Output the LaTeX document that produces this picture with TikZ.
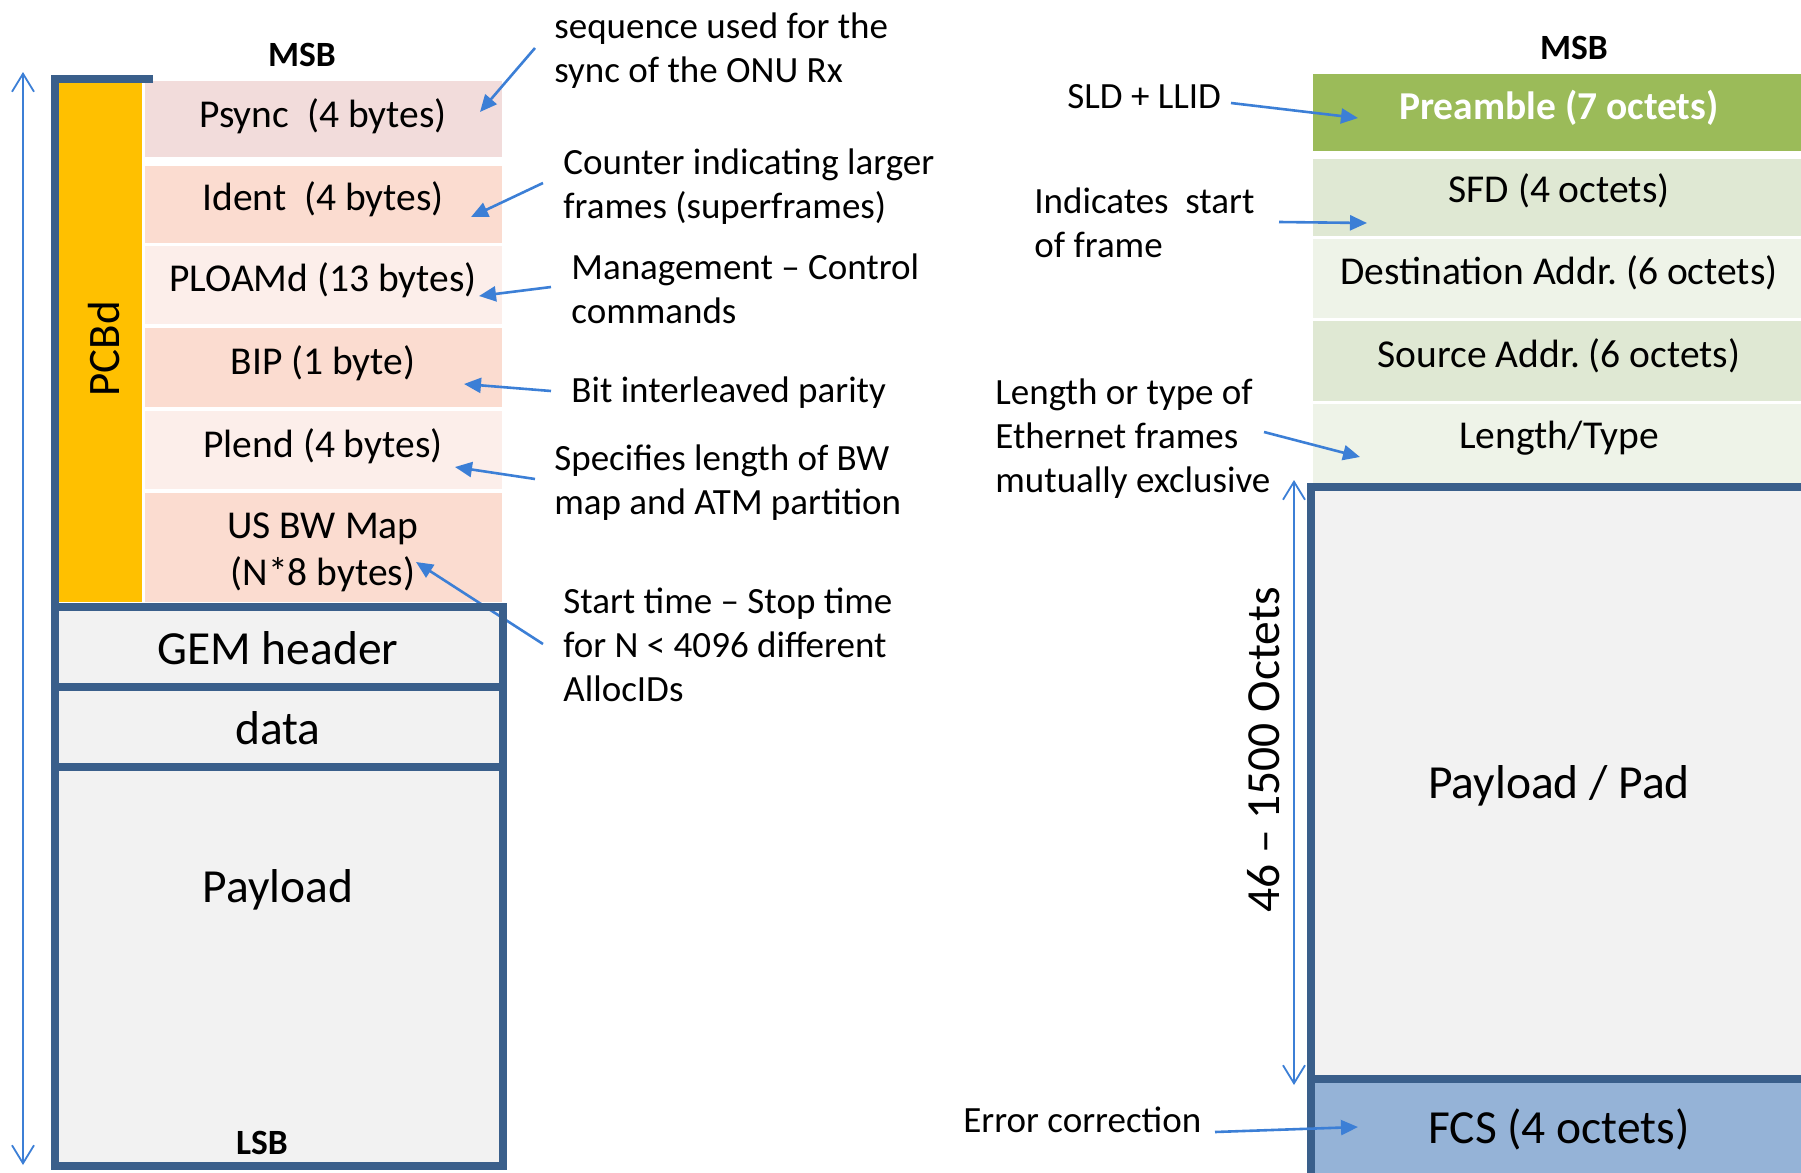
\documentclass[tikz,border=0pt]{standalone}
\usepackage{fontspec}
\setmainfont{Carlito}
\usetikzlibrary{arrows.meta}
\frenchspacing

\definecolor{frameblue}{HTML}{3A5F8B}
\definecolor{pcbdyellow}{HTML}{FFC000}
\definecolor{psyncpink}{HTML}{F2DCDB}
\definecolor{peach}{HTML}{FBDCD0}
\definecolor{peachlight}{HTML}{FCEEEA}
\definecolor{gemgrey}{HTML}{F2F2F2}
\definecolor{preamblegreen}{HTML}{9BBB59}
\definecolor{greenmid}{HTML}{DFE8D3}
\definecolor{greenlight}{HTML}{EEF3E8}
\definecolor{fcsblue}{HTML}{95B3D7}
\definecolor{callout}{HTML}{3C7FD6}

\tikzset{
  note/.style={inner sep=0pt, anchor=west, align=left, font=\fontsize{18.5}{22}\selectfont},
  fieldtxt/.style={inner sep=0pt, align=center, font=\fontsize{19.75}{23.5}\selectfont},
  bigtxt/.style={inner sep=0pt, font=\fontsize{23.75}{28}\selectfont},
  edgelabel/.style={inner sep=0pt, font=\bfseries\fontsize{17.75}{20}\selectfont},
  callarrow/.style={draw=callout, line width=1.3pt, -{Triangle[length=8.5pt,width=7.5pt]}},
  spanarrow/.style={draw=callout, line width=0.9pt,
    {Straight Barb[length=9pt,width=11pt]}-{Straight Barb[length=9pt,width=11pt]}},
  frameline/.style={draw=frameblue, line width=4pt},
}

\begin{document}
\begin{tikzpicture}[x=0.5pt, y=-0.5pt]
  \useasboundingbox (0,0) rectangle (1801,1173);
  \clip (0,0) rectangle (1801,1173);

  % ---------------- GPON downstream frame (left) ----------------
  \fill[pcbdyellow] (59,83) rectangle (142,602);
  \fill[psyncpink]  (145,81)  rectangle (502,157);
  \fill[peach]      (145,166) rectangle (502,243);
  \fill[peachlight] (145,246) rectangle (502,324);
  \fill[peach]      (145,328) rectangle (502,407);
  \fill[peachlight] (145,411) rectangle (502,489);
  \fill[peach]      (145,493) rectangle (502,602);
  \fill[gemgrey]    (55,607) rectangle (503,1166);

  \node[edgelabel] (msbL) at (302,55) {MSB};
  \node[fieldtxt] (psync) at (323,116) {Psync\ \ (4 bytes)};
  \node[fieldtxt] (ident) at (323,199) {Ident\ \ (4 bytes)};
  \node[fieldtxt] (ploam) at (323,280) {PLOAMd (13 bytes)};
  \node[fieldtxt] (bip)   at (323,363) {BIP (1 byte)};
  \node[fieldtxt] (plend) at (323,446) {Plend (4 bytes)};
  \node[fieldtxt] (usbw)  at (323,552) {US BW Map\\(N*8 bytes)};
  \node[inner sep=0pt, rotate=90, font=\fontsize{22.5}{26}\selectfont] (pcbd) at (104,349) {PCBd};
  \node[bigtxt] (gemh) at (278,648) {GEM header};
  \node[bigtxt] (data) at (278,728) {data};
  \node[bigtxt] (payL) at (278,890) {Payload};
  \node[edgelabel] (lsb) at (262,1143) {LSB};

  % annotations
  \node[note] (nsync)  at (554,51)  {sequence used for the\\sync of the ONU Rx};
  \node[note] (nident) at (563,187) {Counter indicating larger\\frames (superframes)};
  \node[note] (nploam) at (571,289) {Management – Control\\commands};
  \node[note] (nbip)   at (571,393) {Bit interleaved parity};
  \node[note] (nplend) at (554,483) {Specifies length of BW\\map and ATM partition};
  \node[note] (nusbw)  at (563,645) {Start time – Stop time\\for N < 4096 different\\AllocIDs};

  \coordinate (s1) at (535,48);  \coordinate (e1) at (480,112);
  \coordinate (s2) at (543,183); \coordinate (e2) at (471,217);
  \coordinate (s3) at (551,287); \coordinate (e3) at (479,296);
  \coordinate (s4) at (551,391); \coordinate (e4) at (464,384);
  \coordinate (s5) at (535,479); \coordinate (e5) at (455,467);
  \coordinate (s6) at (543,644); \coordinate (e6) at (416,562);
  \draw[callarrow] (s1) -- (e1);
  \draw[callarrow] (s2) -- (e2);
  \draw[callarrow] (s3) -- (e3);
  \draw[callarrow] (s4) -- (e4);
  \draw[callarrow] (s5) -- (e5);
  \draw[callarrow] (s6) -- (e6);

  % outline of the frame
  \draw[frameline] (153,79) -- (55,79) -- (55,1166) -- (503,1166) -- (503,607) -- (55,607);
  \draw[frameline] (55,687) -- (503,687);
  \draw[frameline] (55,767) -- (503,767);

  % overall extent
  \coordinate (lt) at (23,72); \coordinate (lb) at (23,1165);
  \draw[spanarrow] (lt) -- (lb);

  % ---------------- Ethernet frame (right) ----------------
  \fill[preamblegreen] (1313,74)  rectangle (1815,151);
  \fill[greenmid]      (1313,159) rectangle (1815,236);
  \fill[greenlight]    (1313,239) rectangle (1815,318);
  \fill[greenmid]      (1313,321) rectangle (1815,401);
  \fill[greenlight]    (1313,404) rectangle (1815,483);
  \fill[gemgrey]       (1311,487) rectangle (1830,1079);
  \fill[fcsblue]       (1311,1079) rectangle (1830,1180);
  \draw[frameline] (1830,487) -- (1311,487) -- (1311,1180);
  \draw[frameline] (1311,1079) -- (1830,1079);

  \node[edgelabel] (msbR) at (1574,48) {MSB};
  \node[fieldtxt, text=white, font=\bfseries\fontsize{19.75}{23.5}\selectfont] (pre) at (1559,108) {Preamble (7 octets)};
  \node[fieldtxt] (sfd)  at (1559,191) {SFD (4 octets)};
  \node[fieldtxt] (dst)  at (1559,273) {Destination Addr. (6 octets)};
  \node[fieldtxt] (src)  at (1559,356) {Source Addr. (6 octets)};
  \node[fieldtxt] (lty)  at (1559,438) {Length/Type};
  \node[bigtxt]   (payR) at (1559,786) {Payload / Pad};
  \node[bigtxt]   (fcs)  at (1559,1129) {FCS (4 octets)};
  \node[bigtxt, rotate=90] (octets) at (1264,750) {46 – 1500 Octets};

  \node[note] (nsld) at (1067,97)  {SLD + LLID};
  \node[note] (nsfd) at (1034,223) {Indicates\ \ start\\of frame};
  \node[note] (nlty) at (995,439)  {Length or type of\\Ethernet frames\\mutually exclusive};
  \node[note] (nerr) at (963,1120) {Error correction};

  \coordinate (s7) at (1231,103);  \coordinate (e7) at (1358,118);
  \coordinate (s8) at (1279,222);  \coordinate (e8) at (1367,223);
  \coordinate (s9) at (1264,432);  \coordinate (e9) at (1360,457);
  \coordinate (s10) at (1215,1132); \coordinate (e10) at (1358,1127);
  \draw[callarrow] (s7) -- (e7);
  \draw[callarrow] (s8) -- (e8);
  \draw[callarrow] (s9) -- (e9);
  \draw[callarrow] (s10) -- (e10);

  \coordinate (rt) at (1294,480); \coordinate (rb) at (1294,1085);
  \draw[spanarrow] (rt) -- (rb);
\end{tikzpicture}
\end{document}
